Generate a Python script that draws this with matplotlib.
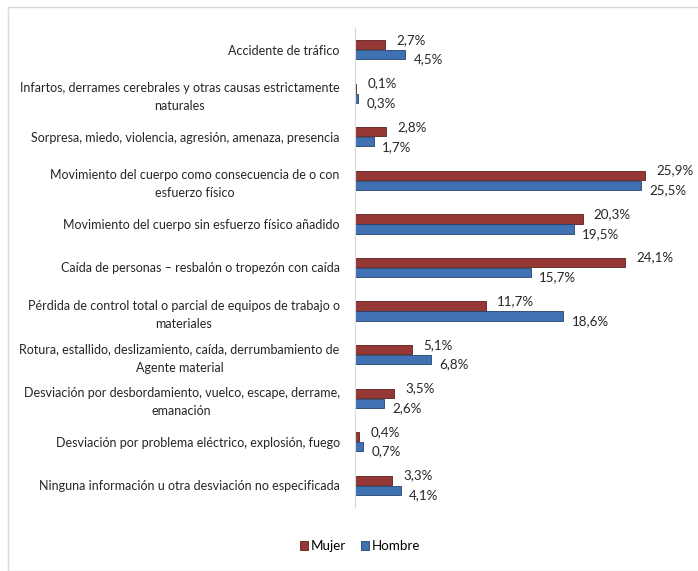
import matplotlib
matplotlib.use("Agg")
import matplotlib.pyplot as plt
from matplotlib.patches import Rectangle
import numpy as np

categories = [
    "Accidente de tráfico",
    "Infartos, derrames cerebrales y otras causas estrictamente\nnaturales",
    "Sorpresa, miedo, violencia, agresión, amenaza, presencia",
    "Movimiento del cuerpo como consecuencia de o con\nesfuerzo físico",
    "Movimiento del cuerpo sin esfuerzo físico añadido",
    "Caída de personas – resbalón o tropezón con caída",
    "Pérdida de control total o parcial de equipos de trabajo o\nmateriales",
    "Rotura, estallido, deslizamiento, caída, derrumbamiento de\nAgente material",
    "Desviación por desbordamiento, vuelco, escape, derrame,\nemanación",
    "Desviación por problema eléctrico, explosión, fuego",
    "Ninguna información u otra desviación no especificada",
]
mujer = [2.7, 0.1, 2.8, 25.9, 20.3, 24.1, 11.7, 5.1, 3.5, 0.4, 3.3]
hombre = [4.5, 0.3, 1.7, 25.5, 19.5, 15.7, 18.6, 6.8, 2.6, 0.7, 4.1]
series_names = ["Mujer", "Hombre"]

plt.rcParams["font.family"] = ["Lato", "DejaVu Sans"]

fig = plt.figure(figsize=(6.98, 5.71), dpi=100)
fig.patches.append(Rectangle((8/698, 0), 1, 1 - 7/571, transform=fig.transFigure,
                             fill=False, edgecolor="#d9d9d9", linewidth=1.0))
ax = fig.add_axes([355/698, 1 - 507/571, 325/698, (507 - 28)/571])

y = np.arange(len(categories))
h = 0.21
off = 0.115
c_m = "#953735"
c_h = "#3f71b3"
ax.barh(y - off, mujer, height=h, color=c_m, edgecolor="#5a1f1e", linewidth=0.6, label=series_names[0])
ax.barh(y + off, hombre, height=h, color=c_h, edgecolor="#23416a", linewidth=0.6, label=series_names[1])

for i in range(len(categories)):
    ax.annotate(f"{mujer[i]:.1f}%".replace(".", ","), (mujer[i], y[i] - off),
                xytext=(8, 3.5), textcoords="offset points", ha="left", va="center",
                fontsize=9.6, color="#262626")
    ax.annotate(f"{hombre[i]:.1f}%".replace(".", ","), (hombre[i], y[i] + off),
                xytext=(6, -3.5), textcoords="offset points", ha="left", va="center",
                fontsize=9.6, color="#262626")

ax.set_xlim(0, 29)
ax.set_ylim(len(categories) - 0.5, -0.5)
ax.set_yticks(y)
ax.set_yticklabels(categories, fontsize=9.0, color="#262626", multialignment="center",
                   linespacing=1.6)
ax.tick_params(axis="y", length=0, pad=11)
ax.set_xticks([])
for s in ["top", "right", "bottom"]:
    ax.spines[s].set_visible(False)
ax.spines["left"].set_color("#d9d9d9")

leg = fig.legend(loc="center", bbox_to_anchor=(360/698, 1 - 546/571), ncol=2, frameon=False,
                 fontsize=9.6, handlelength=0.6, handleheight=0.6, handletextpad=0.2, columnspacing=1.1)

fig.savefig("out.png", dpi=100)
